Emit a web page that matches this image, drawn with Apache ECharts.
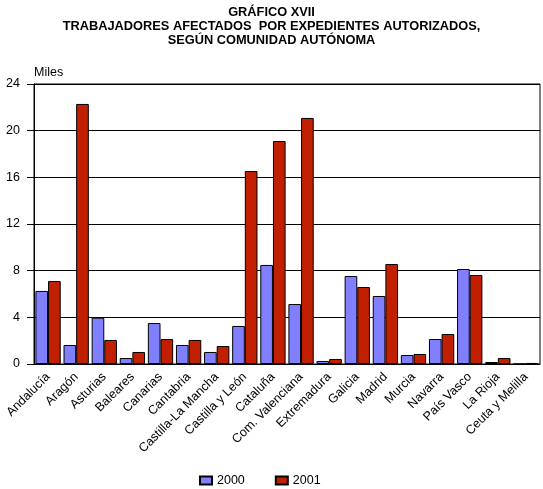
<!DOCTYPE html>
<html>
<head>
    <meta charset="UTF-8">
    <title>Gráfico XVII</title>
    <script src="https://cdn.jsdelivr.net/npm/echarts@6/dist/echarts.min.js"></script>
    <style>
        html, body { margin: 0; padding: 0; background: #fff; }
    </style>
</head>
<body>
    <div id="chart" style="width: 543px; height: 489px;"></div>

    <script type="text/javascript">
        // Comunidades autónomas
        var comunidades = ['Andalucía', 'Aragón', 'Asturias', 'Baleares', 'Canarias', 'Cantabria',
            'Castilla-La Mancha', 'Castilla y León', 'Cataluña', 'Com. Valenciana', 'Extremadura',
            'Galicia', 'Madrid', 'Murcia', 'Navarra', 'País Vasco', 'La Rioja', 'Ceuta y Melilla'];

        // Trabajadores afectados (miles)
        var datos2000 = [6.26, 1.63, 3.97, 0.51, 3.51, 1.63, 1.03, 3.26, 8.49, 5.14, 0.26,
            7.54, 5.83, 0.77, 2.14, 8.14, 0.17, 0];
        var datos2001 = [7.11, 22.29, 2.06, 1.03, 2.14, 2.06, 1.54, 16.54, 19.11, 21.09, 0.43,
            6.6, 8.57, 0.86, 2.57, 7.63, 0.51, 0.09];

        var fuente = 'Arial, "Liberation Sans", sans-serif';

        var myChart = echarts.init(document.getElementById('chart'));

        var option = {
            backgroundColor: '#fff',
            animation: false,
            title: {
                text: 'GRÁFICO XVII\nTRABAJADORES AFECTADOS  POR EXPEDIENTES AUTORIZADOS,\nSEGÚN COMUNIDAD AUTÓNOMA',
                left: 'center',
                top: 0,
                textStyle: {
                    fontFamily: fuente,
                    fontSize: 12.8,
                    fontWeight: 'bold',
                    color: '#000',
                    lineHeight: 14
                }
            },
            legend: {
                top: 469,
                left: 194,
                itemGap: 30,
                itemWidth: 12,
                itemHeight: 8,
                icon: 'rect',
                textStyle: { fontFamily: fuente, fontSize: 12.5, color: '#000' },
                data: ['2000', '2001']
            },
            grid: {
                left: 34,
                right: 3,
                top: 84,
                bottom: 125,
                show: true,
                borderColor: '#000',
                borderWidth: 1
            },
            xAxis: {
                type: 'category',
                data: comunidades,
                axisLine: { lineStyle: { color: '#000', width: 1 } },
                axisTick: { alignWithLabel: true, length: 6, lineStyle: { color: '#000' } },
                axisLabel: {
                    interval: 0,
                    rotate: 45,
                    margin: 11,
                    fontFamily: fuente,
                    fontSize: 12.5,
                    color: '#000'
                }
            },
            yAxis: {
                type: 'value',
                min: 0,
                max: 24,
                interval: 4,
                name: 'Miles',
                nameLocation: 'end',
                nameGap: 5,
                nameTextStyle: { fontFamily: fuente, fontSize: 12.5, color: '#000', align: 'left' },
                axisLine: { show: true, lineStyle: { color: '#000' } },
                axisTick: { show: true, length: 7, lineStyle: { color: '#000' } },
                axisLabel: { fontFamily: fuente, fontSize: 12.5, color: '#000', margin: 14 },
                splitLine: { lineStyle: { color: '#000', width: 1 } }
            },
            series: [
                {
                    name: '2000',
                    type: 'bar',
                    data: datos2000,
                    barGap: '0%',
                    barCategoryGap: '10%',
                    itemStyle: { color: '#8080FF', borderColor: '#000', borderWidth: 1 }
                },
                {
                    name: '2001',
                    type: 'bar',
                    data: datos2001,
                    itemStyle: { color: '#C02000', borderColor: '#000', borderWidth: 1 }
                }
            ]
        };

        myChart.setOption(option);
    </script>
</body>
</html>
